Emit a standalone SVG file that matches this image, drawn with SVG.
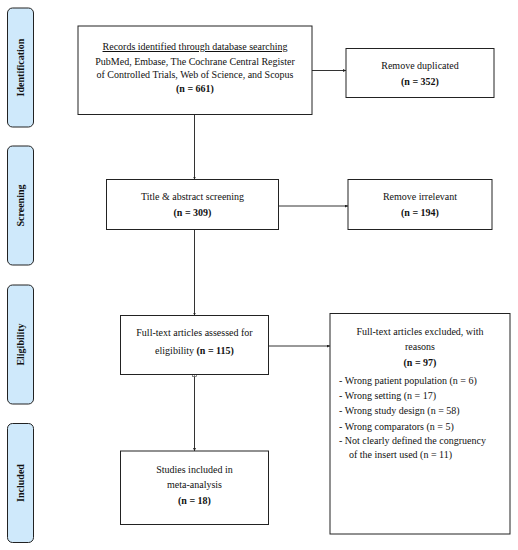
<svg xmlns="http://www.w3.org/2000/svg" width="518" height="550" viewBox="0 0 518 550">
<defs>
<style>
.box{fill:#fff;stroke:#222;stroke-width:1}
.side{fill:#cfe9fb;stroke:#222;stroke-width:1}
.t{font-family:"Liberation Serif","Times New Roman",serif;font-size:10px;fill:#111}
.c{text-anchor:middle}
.b{font-weight:bold}
.st{font-family:"Liberation Serif","Times New Roman",serif;font-size:10px;font-weight:bold;fill:#111;text-anchor:middle}
.ln{stroke:#333;stroke-width:1;fill:none;marker-end:url(#ah)}
</style>
<marker id="ah" viewBox="0 0 6 6" refX="6" refY="3" markerWidth="3" markerHeight="3" orient="auto" markerUnits="userSpaceOnUse">
<path d="M0,0 L6,3 L0,6 z" fill="#222"/>
</marker>
</defs>
<rect width="518" height="550" fill="#fff"/>
<g id="stage-identification">
<rect class="side" x="7.5" y="8" width="26" height="119" rx="5"/>
<text class="st" transform="translate(24,67.5) rotate(-90)">Identification</text>
</g>
<g id="stage-screening">
<rect class="side" x="7.5" y="146" width="26" height="119" rx="5"/>
<text class="st" transform="translate(24,205.5) rotate(-90)">Screening</text>
</g>
<g id="stage-eligibility">
<rect class="side" x="7.5" y="285" width="26" height="119" rx="5"/>
<text class="st" transform="translate(24,344.5) rotate(-90)">Eligibility</text>
</g>
<g id="stage-included">
<rect class="side" x="7.5" y="423.5" width="26" height="119" rx="5"/>
<text class="st" transform="translate(24,483) rotate(-90)">Included</text>
</g>
<g id="connectors">
<line class="ln" x1="312" y1="70.5" x2="346" y2="70.5"/>
<line class="ln" x1="194.5" y1="114.5" x2="194.5" y2="179.5"/>
<line class="ln" x1="278.5" y1="206" x2="348" y2="206"/>
<line class="ln" x1="194.5" y1="229.5" x2="194.5" y2="315.5"/>
<line class="ln" x1="268.5" y1="346" x2="330" y2="346"/>
<line class="ln" x1="194.5" y1="374.5" x2="194.5" y2="451"/>
<rect x="192.5" y="372.5" width="4" height="4" fill="#fff" stroke="#555" stroke-width="0.7"/>
<path d="M192.5,374.5 H196.5 M194.5,372.5 V376.5" stroke="#555" stroke-width="0.6"/>
</g>
<g id="records">
<rect class="box" x="78" y="26" width="234" height="88.5"/>
<text class="t c" x="195" y="50" text-decoration="underline">Records identified through database searching</text>
<text class="t c" x="195" y="65">PubMed, Embase, The Cochrane Central Register</text>
<text class="t c" x="195" y="78">of Controlled Trials, Web of Science, and Scopus</text>
<text class="t c b" x="195" y="92">(n = 661)</text>
</g>
<g id="duplicated">
<rect class="box" x="346" y="48.5" width="148" height="49"/>
<text class="t c" x="420" y="68.5">Remove duplicated</text>
<text class="t c b" x="420" y="84.5">(n = 352)</text>
</g>
<g id="screening">
<rect class="box" x="106.5" y="179.5" width="172" height="50"/>
<text class="t c" x="192.5" y="199.5">Title &amp; abstract screening</text>
<text class="t c b" x="192.5" y="216">(n = 309)</text>
</g>
<g id="irrelevant">
<rect class="box" x="348" y="179.5" width="144" height="50"/>
<text class="t c" x="420" y="199.5">Remove irrelevant</text>
<text class="t c b" x="420" y="216">(n = 194)</text>
</g>
<g id="eligibility">
<rect class="box" x="120.5" y="315.5" width="148" height="59"/>
<text class="t c" x="194.5" y="336">Full-text articles assessed for</text>
<text class="t c" x="194.5" y="353.5">eligibility <tspan class="b">(n = 115)</tspan></text>
</g>
<g id="excluded">
<rect class="box" x="330" y="313.5" width="180" height="220.5"/>
<text class="t c" x="420" y="335">Full-text articles excluded, with</text>
<text class="t c" x="420" y="350">reasons</text>
<text class="t c b" x="420" y="366">(n = 97)</text>
<text class="t" x="339" y="383.5">-  Wrong patient population (n = 6)</text>
<text class="t" x="339" y="399">-  Wrong setting (n = 17)</text>
<text class="t" x="339" y="414">-   Wrong study design (n = 58)</text>
<text class="t" x="339" y="430">-  Wrong comparators (n = 5)</text>
<text class="t" x="339" y="443.5">-  Not clearly defined the congruency</text>
<text class="t" x="349" y="457.5">of the insert used (n = 11)</text>
</g>
<g id="included">
<rect class="box" x="120.5" y="451" width="148" height="73.5"/>
<text class="t c" x="194.5" y="472.5">Studies included in</text>
<text class="t c" x="194.5" y="488">meta-analysis</text>
<text class="t c b" x="194.5" y="504">(n = 18)</text>
</g>
</svg>
